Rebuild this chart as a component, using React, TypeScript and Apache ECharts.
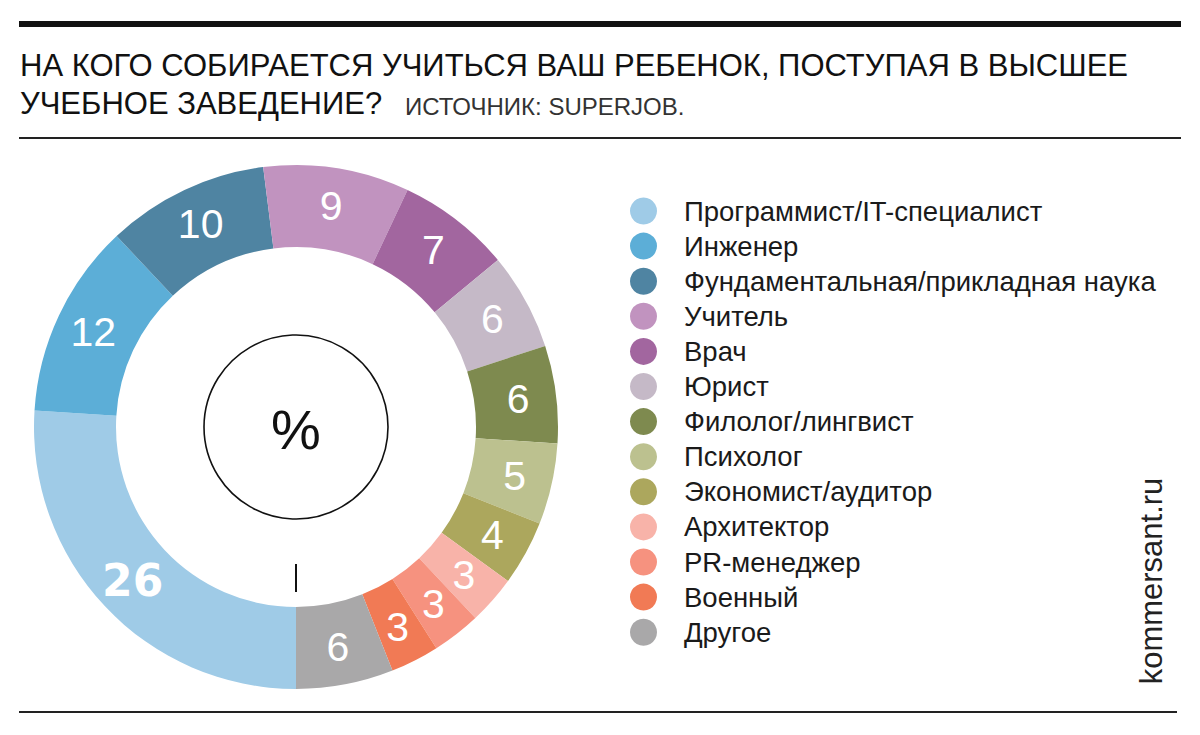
import React, { useEffect, useRef } from "react";
import * as echarts from "echarts";

const categories = [
  "Программист/IT-специалист",
  "Инженер",
  "Фундаментальная/прикладная наука",
  "Учитель",
  "Врач",
  "Юрист",
  "Филолог/лингвист",
  "Психолог",
  "Экономист/аудитор",
  "Архитектор",
  "PR-менеджер",
  "Военный",
  "Другое",
];
const values = [26, 12, 10, 9, 7, 6, 6, 5, 4, 3, 3, 3, 6];
const colors = [
  "#9fcbe7",
  "#5caed7",
  "#4f84a2",
  "#c193bf",
  "#a2669f",
  "#c5b9c7",
  "#7e8a4f",
  "#bcc18f",
  "#aca75d",
  "#f8b3a9",
  "#f6927f",
  "#f17a55",
  "#a9a8a9",
];
const titleLines = [
  "НА КОГО СОБИРАЕТСЯ УЧИТЬСЯ ВАШ РЕБЕНОК, ПОСТУПАЯ В ВЫСШЕЕ",
  "УЧЕБНОЕ ЗАВЕДЕНИЕ?",
];
const sourceText = "ИСТОЧНИК: SUPERJOB.";
const brandText = "kommersant.ru";
const centerText = "%";

const FONT = "'Liberation Sans', Arial, sans-serif";

export default function App() {
  const ref = useRef<HTMLDivElement>(null);
  useEffect(() => {
    document.body.style.margin = "0";
    const chart = echarts.init(ref.current!, null, { renderer: "svg" });
    const cx = 296;
    const cy = 427;
    chart.setOption({
      animation: false,
      backgroundColor: "#ffffff",
      textStyle: { fontFamily: FONT },
      legend: {
        orient: "vertical",
        left: 625,
        top: 192,
        icon: "circle",
        itemWidth: 27,
        itemHeight: 27,
        itemGap: 7.1,
        selectedMode: false,
        textStyle: { fontSize: 27.5, color: "#1a1a1a", fontFamily: FONT, padding: [0, 0, 0, 22] },
        data: categories,
      },
      series: [
        {
          type: "pie",
          center: [cx, cy],
          radius: [180, 262],
          startAngle: -90,
          clockwise: true,
          avoidLabelOverlap: false,
          silent: true,
          label: {
            show: true,
            position: "inside",
            formatter: "{c}",
            color: "#ffffff",
            fontSize: 41,
            fontFamily: FONT,
          },
          labelLine: { show: false },
          itemStyle: { borderWidth: 0 },
          data: categories.map((name, i) => ({
            name,
            value: values[i],
            itemStyle: { color: colors[i] },
            label:
              i === 0
                ? { fontWeight: "bold", fontFamily: "'DejaVu Sans', sans-serif", fontSize: 44 }
                : undefined,
          })),
        },
      ],
      graphic: [
        { type: "rect", shape: { x: 19, y: 21, width: 1162, height: 6 }, style: { fill: "#111" } },
        { type: "rect", shape: { x: 19, y: 137, width: 1162, height: 2 }, style: { fill: "#222" } },
        { type: "rect", shape: { x: 19, y: 711, width: 1158, height: 2 }, style: { fill: "#222" } },
        {
          type: "text",
          x: 20,
          y: 65,
          style: { text: titleLines[0], font: `31px ${FONT}`, fill: "#111", verticalAlign: "middle" },
        },
        {
          type: "text",
          x: 20,
          y: 103,
          style: { text: titleLines[1], font: `31px ${FONT}`, fill: "#111", verticalAlign: "middle" },
        },
        {
          type: "text",
          x: 405,
          y: 106,
          style: { text: sourceText, font: `24px ${FONT}`, fill: "#333", verticalAlign: "middle" },
        },
        {
          type: "text",
          x: 1151,
          y: 581,
          rotation: Math.PI / 2,
          style: {
            text: brandText,
            font: `31px ${FONT}`,
            fill: "#222",
            align: "center",
            verticalAlign: "middle",
          },
        },
        {
          type: "circle",
          shape: { cx: cx, cy: cy, r: 92 },
          style: { fill: "none", stroke: "#111", lineWidth: 1.6 },
        },
        {
          type: "text",
          x: cx,
          y: cy + 2,
          style: {
            text: centerText,
            font: `56px ${FONT}`,
            fill: "#111",
            align: "center",
            verticalAlign: "middle",
          },
        },
        {
          type: "line",
          shape: { x1: cx, y1: 564, x2: cx, y2: 592 },
          style: { stroke: "#111", lineWidth: 2 },
        },
      ],
    });
    return () => chart.dispose();
  }, []);
  return <div ref={ref} style={{ width: 1200, height: 735 }} />;
}
